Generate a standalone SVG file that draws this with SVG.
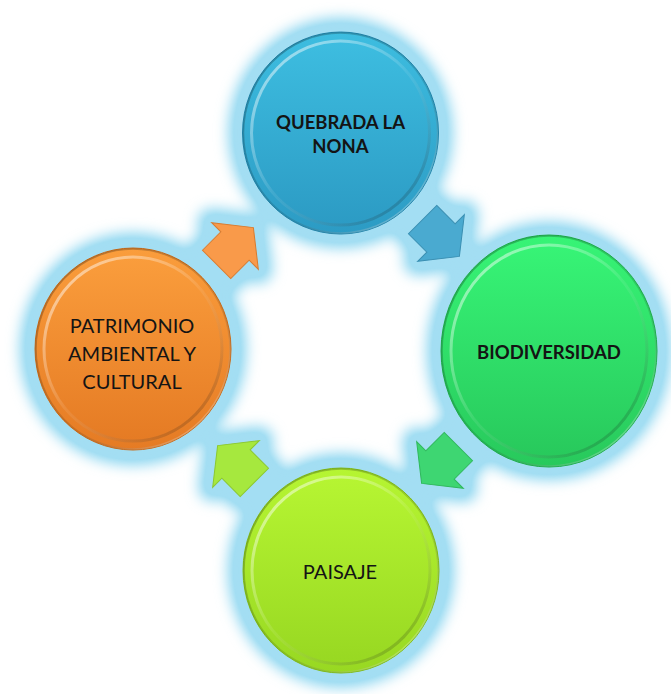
<svg xmlns="http://www.w3.org/2000/svg" width="671" height="694" viewBox="0 0 671 694">
<defs>
  <filter id="glow" x="-30%" y="-30%" width="160%" height="160%">
    <feGaussianBlur stdDeviation="7"/>
    <feComponentTransfer><feFuncA type="linear" slope="1.3"/></feComponentTransfer>
  </filter>
  <linearGradient id="gBlue" x1="0" y1="0" x2="0" y2="1">
    <stop offset="0" stop-color="#3dbde0"/>
    <stop offset="1" stop-color="#2c9bc4"/>
  </linearGradient>
  <linearGradient id="gGreen" x1="0" y1="0" x2="0" y2="1">
    <stop offset="0" stop-color="#37f476"/>
    <stop offset="1" stop-color="#28c95c"/>
  </linearGradient>
  <linearGradient id="gLime" x1="0" y1="0" x2="0" y2="1">
    <stop offset="0" stop-color="#b6f532"/>
    <stop offset="1" stop-color="#98d822"/>
  </linearGradient>
  <linearGradient id="gOrange" x1="0" y1="0" x2="0" y2="1">
    <stop offset="0" stop-color="#fa9d3c"/>
    <stop offset="1" stop-color="#e57b24"/>
  </linearGradient>
  <linearGradient id="bevel" x1="0.15" y1="0.1" x2="0.85" y2="0.9">
    <stop offset="0" stop-color="#ffffff" stop-opacity="0.5"/>
    <stop offset="0.5" stop-color="#ffffff" stop-opacity="0.08"/>
    <stop offset="1" stop-color="#000000" stop-opacity="0.18"/>
  </linearGradient>
  <linearGradient id="rim" x1="0.15" y1="0.1" x2="0.85" y2="0.9">
    <stop offset="0" stop-color="#000000" stop-opacity="0.25"/>
    <stop offset="0.6" stop-color="#000000" stop-opacity="0.12"/>
    <stop offset="1" stop-color="#ffffff" stop-opacity="0.3"/>
  </linearGradient>
  <path id="arrow" d="M-26,-20 L0,-20 L0,-33 L26,0 L0,33 L0,20 L-26,20 Z"/>
</defs>
<style>
  .lbl { font-family: Lato, "Open Sans", "Liberation Sans", sans-serif; fill: #141414; text-anchor: middle; }
  .b { font-weight: bold; font-size: 18.5px; }
  .r { font-size: 20px; }
  .rim { fill: none; stroke: url(#rim); stroke-width: 1.5; }
  .bev { stroke: url(#bevel); stroke-width: 3; }
  .arr { stroke-width: 1; stroke-linejoin: miter; }
</style>
<rect width="671" height="694" fill="#ffffff"/>

<g id="glow-layer" filter="url(#glow)" fill="#a3def3" stroke="#a3def3" stroke-linejoin="round">
  <ellipse cx="340.5" cy="133" rx="112" ry="115" stroke="none"/>
  <ellipse cx="549" cy="351" rx="122" ry="129" stroke="none"/>
  <ellipse cx="341" cy="570.5" rx="113" ry="117" stroke="none"/>
  <ellipse cx="133" cy="349" rx="113" ry="116" stroke="none"/>
  <use href="#arrow" transform="translate(441,238) rotate(45)" stroke-width="28"/>
  <use href="#arrow" transform="translate(440,465) rotate(135)" stroke-width="28"/>
  <use href="#arrow" transform="translate(236,464) rotate(225)" stroke-width="28"/>
  <use href="#arrow" transform="translate(235,246) rotate(-45)" stroke-width="28"/>
</g>

<g id="connectors">
  <use class="arr" href="#arrow" transform="translate(441,238) rotate(45)" fill="#4aaad0" stroke="#3a8fb2"/>
  <use class="arr" href="#arrow" transform="translate(440,465) rotate(135)" fill="#3ed672" stroke="#30b85c"/>
  <use class="arr" href="#arrow" transform="translate(236,464) rotate(225)" fill="#a6e83e" stroke="#8cc830"/>
  <use class="arr" href="#arrow" transform="translate(235,246) rotate(-45)" fill="#f99a4a" stroke="#d87c30"/>
</g>

<g id="node-quebrada">
  <ellipse cx="340.5" cy="133" rx="98" ry="101" fill="url(#gBlue)" stroke="#2285ab" stroke-width="1"/>
  <ellipse cx="340.5" cy="133" rx="97" ry="100" class="rim"/>
  <ellipse cx="340.5" cy="133" rx="89" ry="92" fill="url(#gBlue)" class="bev"/>
  <text class="lbl b" x="340.5" y="128.5">QUEBRADA LA</text>
  <text class="lbl b" x="340.5" y="152.5">NONA</text>
</g>

<g id="node-biodiversidad">
  <ellipse cx="549" cy="351" rx="108" ry="116" fill="url(#gGreen)" stroke="#1fae4c" stroke-width="1"/>
  <ellipse cx="549" cy="351" rx="107" ry="115" class="rim"/>
  <ellipse cx="549" cy="351" rx="98" ry="106" fill="url(#gGreen)" class="bev"/>
  <text class="lbl b" x="549" y="358.5" font-size="18">BIODIVERSIDAD</text>
</g>

<g id="node-paisaje">
  <ellipse cx="341" cy="570.5" rx="98" ry="102.5" fill="url(#gLime)" stroke="#80bb18" stroke-width="1"/>
  <ellipse cx="341" cy="570.5" rx="97" ry="101.5" class="rim"/>
  <ellipse cx="341" cy="570.5" rx="89" ry="93.5" fill="url(#gLime)" class="bev"/>
  <text class="lbl r" x="340" y="579" font-size="19">PAISAJE</text>
</g>

<g id="node-patrimonio">
  <ellipse cx="133" cy="349" rx="98" ry="101" fill="url(#gOrange)" stroke="#c96a18" stroke-width="1"/>
  <ellipse cx="133" cy="349" rx="97" ry="100" class="rim"/>
  <ellipse cx="133" cy="349" rx="89" ry="92" fill="url(#gOrange)" class="bev"/>
  <text class="lbl r" x="132" y="333">PATRIMONIO</text>
  <text class="lbl r" x="132" y="361">AMBIENTAL Y</text>
  <text class="lbl r" x="132" y="389">CULTURAL</text>
</g>
</svg>
